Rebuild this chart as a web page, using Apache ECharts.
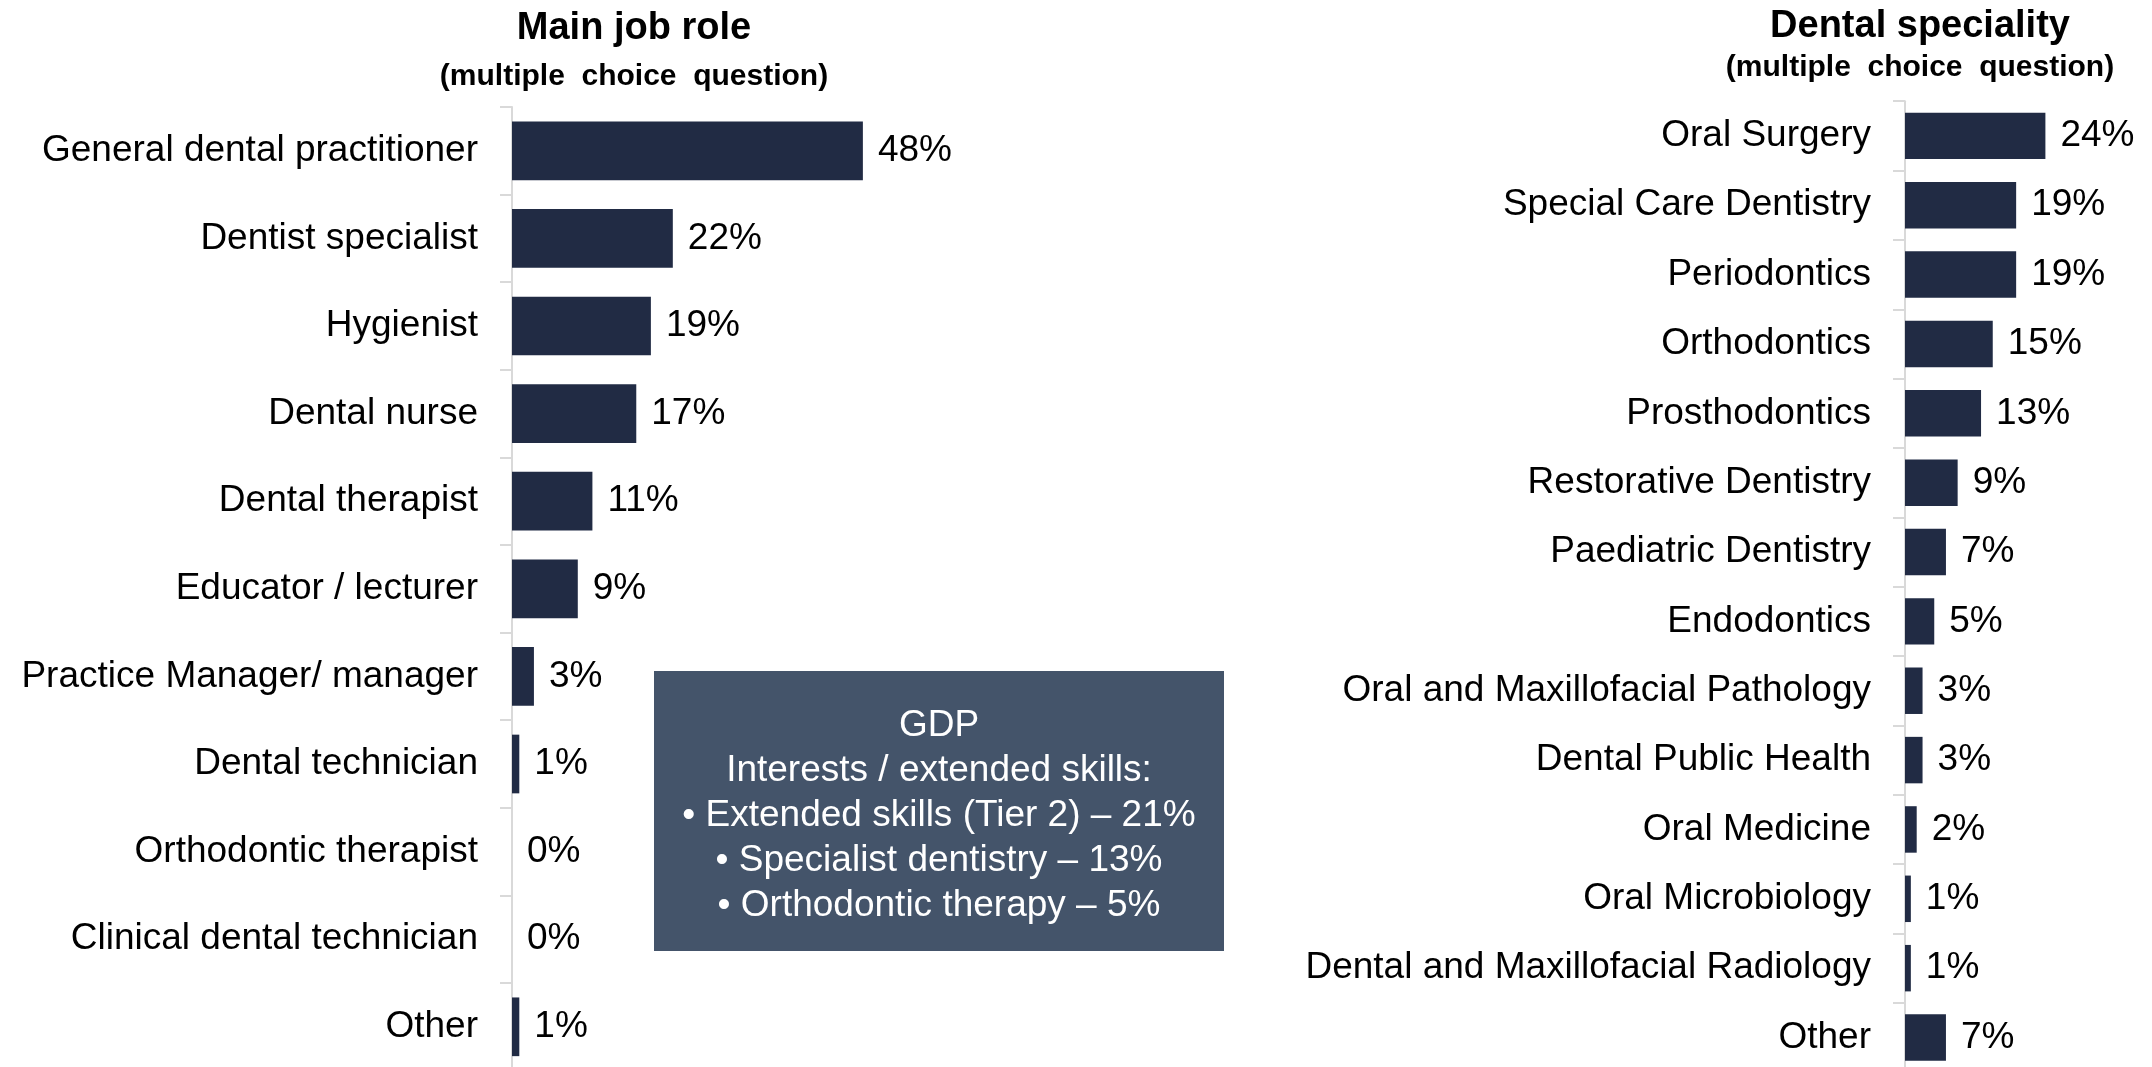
<!DOCTYPE html>
<html>
<head>
<meta charset="utf-8">
<script src="https://cdn.jsdelivr.net/npm/echarts@6/dist/echarts.min.js"></script>
<style>
  html, body { margin: 0; padding: 0; background: #ffffff; }
  #chart { width: 2152px; height: 1067px; }
</style>
</head>
<body>
<div id="chart"></div>
<script>
// Main job role (share of respondents, %)
const roleCategories = [
  'General dental practitioner', 'Dentist specialist', 'Hygienist', 'Dental nurse',
  'Dental therapist', 'Educator / lecturer', 'Practice Manager/ manager',
  'Dental technician', 'Orthodontic therapist', 'Clinical dental technician', 'Other'
];
const roleValues = [48, 22, 19, 17, 11, 9, 3, 1, 0, 0, 1];

// Dental speciality (share of respondents, %)
const specialityCategories = [
  'Oral Surgery', 'Special Care Dentistry', 'Periodontics', 'Orthodontics',
  'Prosthodontics', 'Restorative Dentistry', 'Paediatric Dentistry', 'Endodontics',
  'Oral and Maxillofacial Pathology', 'Dental Public Health', 'Oral Medicine',
  'Oral Microbiology', 'Dental and Maxillofacial Radiology', 'Other'
];
const specialityValues = [24, 19, 19, 15, 13, 9, 7, 5, 3, 3, 2, 1, 1, 7];

// GDP call-out text
const gdpLines = [
  'GDP',
  'Interests / extended skills:',
  '\u2022 Extended skills (Tier 2) \u2013 21%',
  '\u2022 Specialist dentistry \u2013 13%',
  '\u2022 Orthodontic therapy \u2013 5%'
];

const FONT = '"Liberation Sans", Arial, Helvetica, sans-serif';
const BAR = '#212b44';
const AXIS = '#d9d9d9';

function catAxis(gridIndex, data) {
  return {
    type: 'category', gridIndex, data, inverse: true,
    axisLine: { show: true, lineStyle: { color: AXIS, width: 2 } },
    axisTick: { show: true, length: 12, lineStyle: { color: AXIS, width: 2 } },
    axisLabel: { margin: 34, fontSize: 37, color: '#000', fontFamily: FONT, padding: [5, 0, 0, 0] }
  };
}
function valAxis(gridIndex, max) {
  return {
    type: 'value', gridIndex, min: 0, max,
    show: false, splitLine: { show: false }
  };
}
function barSeries(idx, data) {
  return {
    type: 'bar', xAxisIndex: idx, yAxisIndex: idx, data,
    barCategoryGap: '33%',
    itemStyle: { color: BAR },
    label: {
      show: true, position: 'right', distance: 15, padding: [5, 0, 0, 0],
      formatter: '{c}%', fontSize: 37, color: '#000', fontFamily: FONT
    },
    silent: true
  };
}

function titleText(x, y, text, size) {
  return {
    type: 'text', x, y,
    style: { text, fontSize: size, fontWeight: 'bold', fontFamily: FONT,
             fill: '#000', align: 'center', verticalAlign: 'middle' }
  };
}

const chart = echarts.init(document.getElementById('chart'), null, { renderer: 'canvas' });
chart.setOption({
  animation: false,
  backgroundColor: '#ffffff',
  grid: [
    // the last row runs slightly past the bottom edge, so bounds are not enforced
    { left: 512, top: 107, width: 365.5, height: 963.6, outerBoundsMode: 'none', containLabel: false },
    { left: 1905, top: 101.2, width: 175.5, height: 971, outerBoundsMode: 'none', containLabel: false }
  ],
  xAxis: [valAxis(0, 50), valAxis(1, 30)],
  yAxis: [catAxis(0, roleCategories), catAxis(1, specialityCategories)],
  series: [barSeries(0, roleValues), barSeries(1, specialityValues)],
  graphic: [
    titleText(634, 29, 'Main job role', 38),
    titleText(634, 77, '(multiple  choice  question)', 30),
    titleText(1920, 27, 'Dental speciality', 38),
    titleText(1920, 68, '(multiple  choice  question)', 30),
    {
      type: 'rect', shape: { x: 654, y: 671, width: 570, height: 280 },
      style: { fill: '#44546a' }
    },
    {
      type: 'text', x: 939, y: 816,
      style: { text: gdpLines.join('\n'), fontSize: 37, lineHeight: 45, fontFamily: FONT,
               fill: '#ffffff', align: 'center', verticalAlign: 'middle' }
    }
  ]
});
</script>
</body>
</html>
